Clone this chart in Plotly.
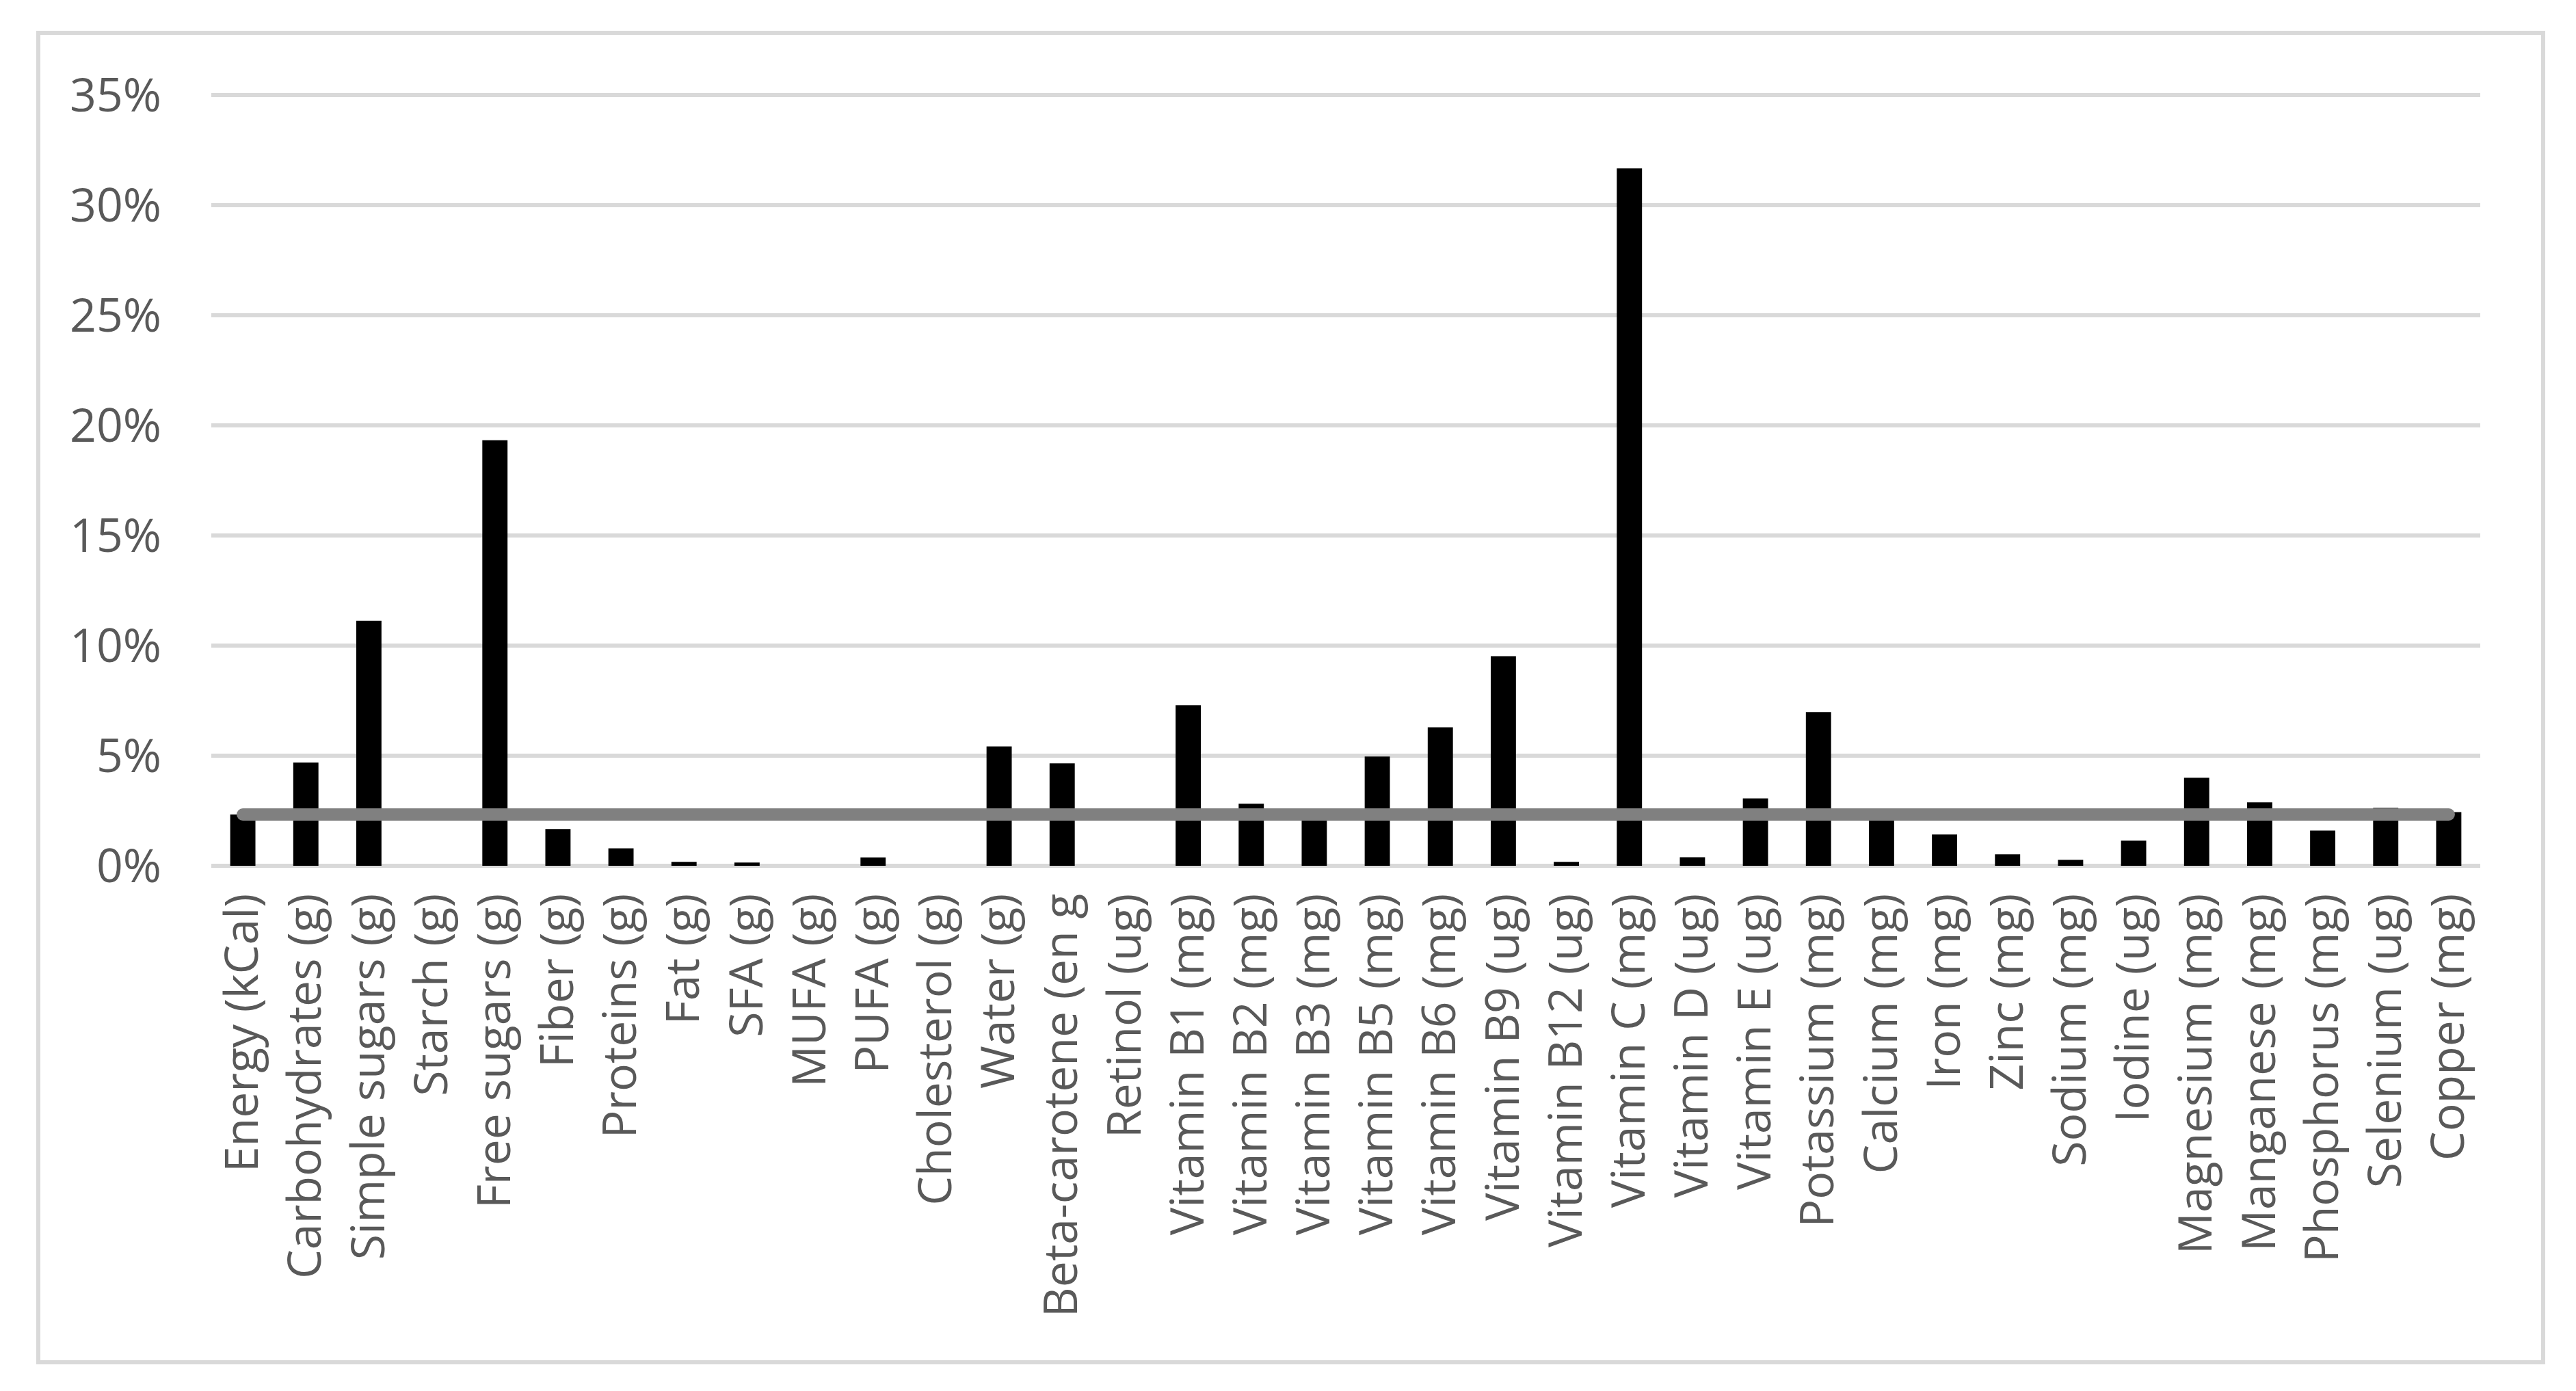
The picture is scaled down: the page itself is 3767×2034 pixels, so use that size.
import plotly.graph_objects as go

categories = [
    "Energy (kCal)", "Carbohydrates (g)", "Simple sugars (g)", "Starch (g)",
    "Free sugars (g)", "Fiber (g)", "Proteins (g)", "Fat (g)", "SFA (g)",
    "MUFA (g)", "PUFA (g)", "Cholesterol (g)", "Water (g)",
    "Beta-carotene (en g", "Retinol (ug)", "Vitamin B1 (mg)",
    "Vitamin B2 (mg)", "Vitamin B3 (mg)", "Vitamin B5 (mg)",
    "Vitamin B6 (mg)", "Vitamin B9 (ug)", "Vitamin B12 (ug)",
    "Vitamin C (mg)", "Vitamin D (ug)", "Vitamin E (ug)", "Potassium (mg)",
    "Calcium (mg)", "Iron (mg)", "Zinc (mg)", "Sodium (mg)", "Iodine (ug)",
    "Magnesium (mg)", "Manganese (mg)", "Phosphorus (mg)", "Selenium (ug)",
    "Copper (mg)",
]

# share of daily intake, in percent
shares = [
    2.33, 4.69, 11.13, 0.0, 19.33, 1.67, 0.79, 0.18, 0.15, 0.0, 0.38, 0.0,
    5.42, 4.65, 0.0, 7.29, 2.82, 2.30, 4.96, 6.29, 9.52, 0.18, 31.68, 0.39,
    3.06, 6.98, 2.30, 1.42, 0.52, 0.27, 1.14, 4.00, 2.88, 1.60, 2.63, 2.44,
]

# energy share drawn as a reference line
energy_share = 2.33

W, H = 3767, 2034
left, right, top, bottom = 301, 3619, 125, 1258
ymax = 0.352

fig = go.Figure()

fig.add_trace(go.Bar(
    x=categories,
    y=[v / 100 for v in shares],
    marker=dict(color="#000000", line=dict(width=0)),
    showlegend=False,
))

fig.add_trace(go.Scatter(
    x=[categories[0], categories[-1]],
    y=[energy_share / 100, energy_share / 100],
    mode="lines+markers",
    line=dict(color="#808080", width=18),
    marker=dict(color="#808080", size=18),
    showlegend=False,
))

# outer chart border
pw = right - left
ph = bottom - top
fig.add_shape(
    type="rect", xref="paper", yref="paper",
    x0=(48 - left) / pw, x1=(3711 - left) / pw,
    y0=(bottom - 1984) / ph, y1=(bottom - 40) / ph,
    line=dict(color="#d9d9d9", width=6),
    layer="below",
)

fig.update_layout(
    width=W, height=H,
    margin=dict(l=left, r=W - right, t=top, b=H - bottom, autoexpand=False),
    paper_bgcolor="white",
    plot_bgcolor="white",
    bargap=0.6,
    font=dict(family="Open Sans", size=68, color="#595959"),
)

fig.update_xaxes(
    type="category",
    range=[-0.5, len(categories) - 0.5],
    tickangle=-90,
    showgrid=False,
    showline=False,
    ticks="",
    ticklabelstandoff=26,
    tickfont=dict(family="Open Sans", size=68, color="#595959"),
)

fig.update_yaxes(
    range=[0, ymax],
    tickvals=[0, 0.05, 0.10, 0.15, 0.20, 0.25, 0.30, 0.35],
    tickformat=".0%",
    showgrid=True,
    gridcolor="#d9d9d9",
    gridwidth=6,
    zeroline=True,
    zerolinecolor="#d9d9d9",
    zerolinewidth=6,
    showline=False,
    ticks="",
    ticklabelstandoff=72,
    tickfont=dict(family="Open Sans", size=68, color="#595959"),
)

fig.write_html("out.html")
